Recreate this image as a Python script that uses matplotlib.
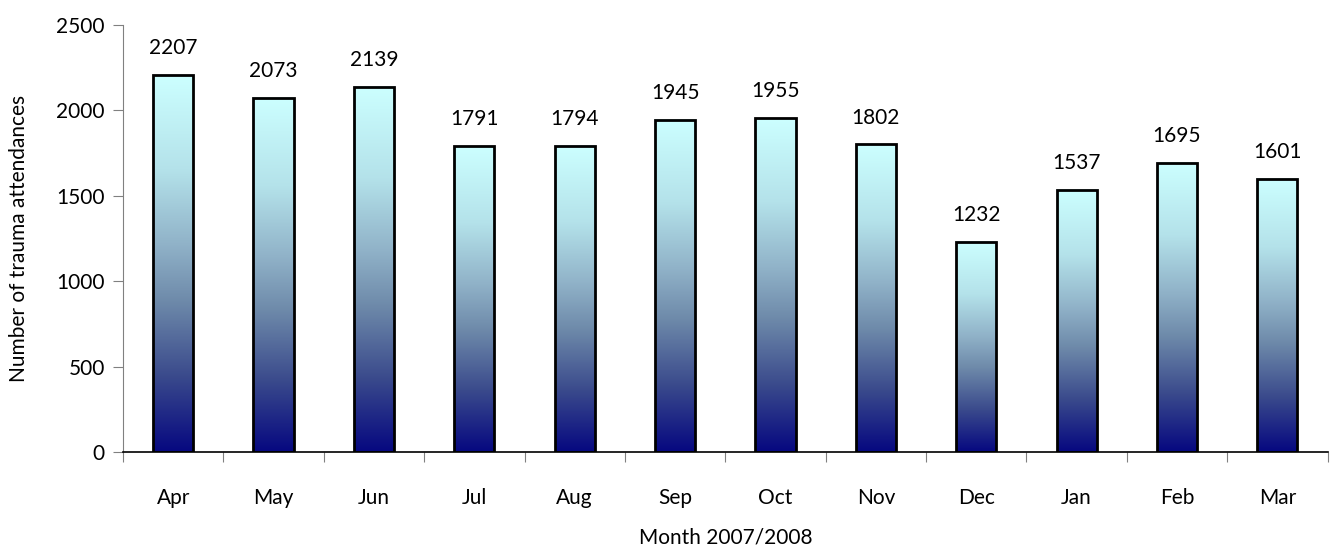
import numpy as np
import matplotlib.pyplot as plt
from matplotlib.colors import LinearSegmentedColormap

months = ["Apr", "May", "Jun", "Jul", "Aug", "Sep", "Oct", "Nov", "Dec", "Jan", "Feb", "Mar"]
attendances = [2207, 2073, 2139, 1791, 1794, 1945, 1955, 1802, 1232, 1537, 1695, 1601]

plt.rcParams['font.family'] = ['Lato', 'DejaVu Sans']

fig = plt.figure(figsize=(13.31, 5.45), dpi=100)
ax = fig.add_axes([0.0924, 0.1706, 0.905, 0.7834])

# bottom -> top, greyish blue in the middle like the original fill
cmap = LinearSegmentedColormap.from_list("navy_cyan", [
    (0.0, "#060880"), (0.2, "#3A4A8C"), (0.4, "#6E8AAA"),
    (0.55, "#90B2C8"), (0.75, "#B4E2EA"), (1.0, "#CCFFFF")])
grad = np.linspace(0, 1, 256).reshape(-1, 1)

x = np.arange(len(months))
bars = ax.bar(x, attendances, width=0.4, facecolor="none", edgecolor="black",
              linewidth=2, zorder=3)

for bar, val in zip(bars, attendances):
    x0, w, h = bar.get_x(), bar.get_width(), bar.get_height()
    ax.imshow(grad, cmap=cmap, origin="lower", aspect="auto",
              extent=(x0, x0 + w, 0, h), zorder=2)
    ax.annotate(str(val), (x0 + w / 2, h), xytext=(0, 12), textcoords="offset points",
                ha="center", va="bottom", fontsize=15)

ax.set_xlim(-0.5, len(months) - 0.5)
ax.set_ylim(0, 2500)
ax.set_yticks(range(0, 2501, 500))

ax.set_xticks(np.arange(-0.5, len(months), 1))
ax.set_xticklabels([])
ax.set_xticks(x, minor=True)
ax.set_xticklabels(months, minor=True)
ax.tick_params(axis="x", which="minor", length=0, pad=26, labelsize=15)
ax.tick_params(axis="x", which="major", length=7, color="#808080", direction="out")
ax.tick_params(axis="y", length=7, color="#808080", labelsize=15, pad=6)

for s in ["top", "right"]:
    ax.spines[s].set_visible(False)
ax.spines["left"].set_color("#808080")
ax.spines["bottom"].set_color("black")
ax.spines["bottom"].set_linewidth(1.2)

ax.set_ylabel("Number of trauma attendances", fontsize=15, labelpad=20)
ax.set_xlabel("Month 2007/2008", fontsize=15, labelpad=14)

fig.savefig("out.png", dpi=100)
